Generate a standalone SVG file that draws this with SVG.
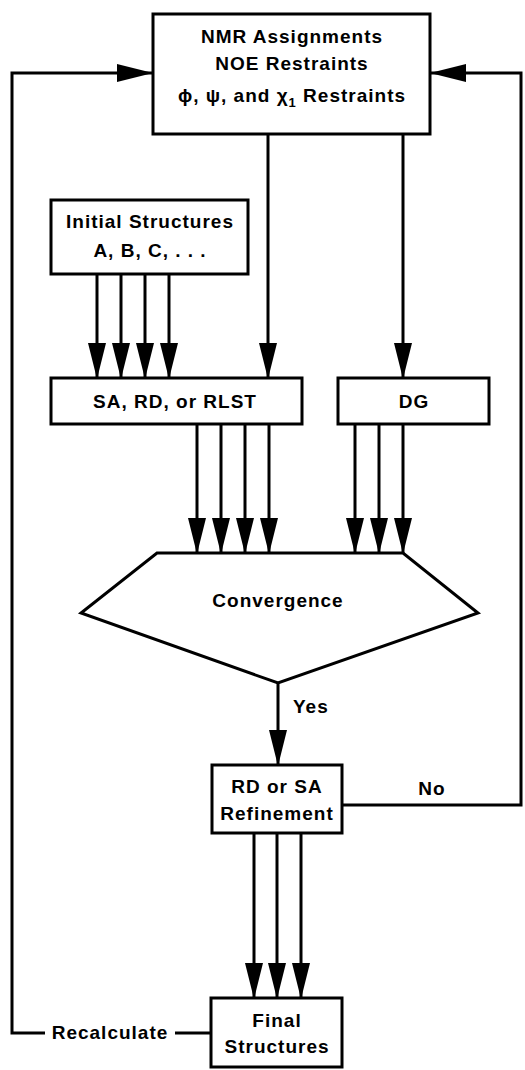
<svg xmlns="http://www.w3.org/2000/svg" width="525" height="1070" viewBox="0 0 525 1070">
<style>
  .box { fill: #fff; stroke: #000; stroke-width: 3; }
  .ln { fill: none; stroke: #000; stroke-width: 3; }
  .arr { fill: none; stroke: #000; stroke-width: 3; marker-end: url(#ah); }
  text { font-family: "Liberation Sans", Arial, Helvetica, sans-serif; font-weight: bold; font-size: 19px; letter-spacing: 1px; fill: #000; }
  .c { text-anchor: middle; }
</style>
<defs>
  <marker id="ah" viewBox="0 0 36 18" markerWidth="36" markerHeight="18" refX="35" refY="9" orient="auto" markerUnits="userSpaceOnUse">
    <path d="M0,0 L36,9 L0,18 z" fill="#000"/>
  </marker>
</defs>
<rect width="525" height="1070" fill="#fff"/>

<g id="connectors">
  <!-- feedback loops -->
  <path class="arr" d="M45,1033 H12 V73 H152"/>
  <path class="arr" d="M342,805 H521 V73 H431"/>
  <line class="ln" x1="175" y1="1033" x2="211" y2="1033"/>
  <!-- from top box -->
  <line class="arr" x1="268" y1="134" x2="268" y2="378"/>
  <line class="arr" x1="403" y1="134" x2="403" y2="378"/>
  <!-- from initial structures -->
  <line class="arr" x1="97" y1="274" x2="97" y2="378"/>
  <line class="arr" x1="121" y1="274" x2="121" y2="378"/>
  <line class="arr" x1="145" y1="274" x2="145" y2="378"/>
  <line class="arr" x1="169" y1="274" x2="169" y2="378"/>
  <!-- to convergence -->
  <line class="arr" x1="197" y1="424" x2="197" y2="553"/>
  <line class="arr" x1="221" y1="424" x2="221" y2="553"/>
  <line class="arr" x1="245" y1="424" x2="245" y2="553"/>
  <line class="arr" x1="269" y1="424" x2="269" y2="553"/>
  <line class="arr" x1="355" y1="424" x2="355" y2="553"/>
  <line class="arr" x1="379" y1="424" x2="379" y2="553"/>
  <line class="arr" x1="403" y1="424" x2="403" y2="553"/>
  <!-- yes -->
  <line class="arr" x1="278" y1="683" x2="278" y2="765"/>
  <!-- to final -->
  <line class="arr" x1="254" y1="833" x2="254" y2="998"/>
  <line class="arr" x1="277" y1="833" x2="277" y2="998"/>
  <line class="arr" x1="301" y1="833" x2="301" y2="998"/>
  <text x="293" y="713">Yes</text>
  <text class="c" x="432" y="795">No</text>
  <text class="c" x="110" y="1039">Recalculate</text>
</g>

<g id="restraints">
  <rect class="box" x="153" y="14" width="277" height="120"/>
  <text class="c" x="292" y="43">NMR Assignments</text>
  <text class="c" x="292" y="70">NOE Restraints</text>
  <text class="c" x="292" y="102">ϕ, ψ, and χ<tspan font-size="13" dy="5">1</tspan><tspan dy="-5"> Restraints</tspan></text>
</g>

<g id="initial">
  <rect class="box" x="51" y="200" width="197" height="74"/>
  <text class="c" x="150" y="228">Initial Structures</text>
  <text class="c" x="150" y="257">A, B, C, . . .</text>
</g>

<g id="sa">
  <rect class="box" x="51" y="378" width="251" height="46"/>
  <text class="c" x="175" y="408">SA, RD, or RLST</text>
</g>

<g id="dg">
  <rect class="box" x="338" y="378" width="151" height="46"/>
  <text class="c" x="414" y="408">DG</text>
</g>

<g id="convergence">
  <polygon class="box" points="157,553 403,553 478,613 278,683 81,613"/>
  <text class="c" x="278" y="607">Convergence</text>
</g>

<g id="refinement">
  <rect class="box" x="212" y="765" width="130" height="68"/>
  <text class="c" x="277" y="793">RD or SA</text>
  <text class="c" x="277" y="820">Refinement</text>
</g>

<g id="final">
  <rect class="box" x="211" y="998" width="131" height="69"/>
  <text class="c" x="277" y="1027">Final</text>
  <text class="c" x="277" y="1053">Structures</text>
</g>
</svg>
